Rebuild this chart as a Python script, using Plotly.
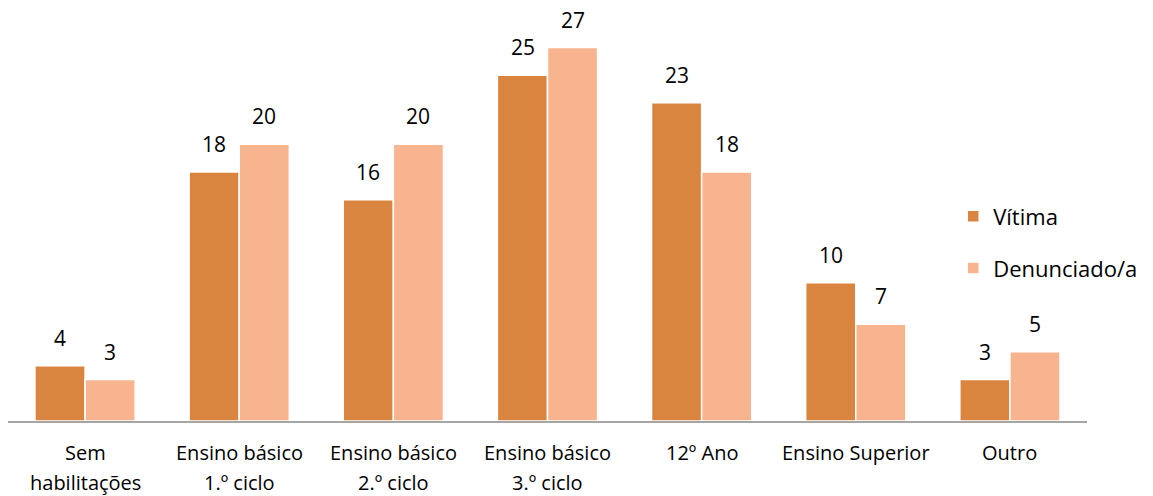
import plotly.graph_objects as go

categories = ["Sem habilitações", "Ensino básico 1.º ciclo", "Ensino básico 2.º ciclo",
              "Ensino básico 3.º ciclo", "12º Ano", "Ensino Superior", "Outro"]
label_line1 = ["Sem", "Ensino básico", "Ensino básico", "Ensino básico", "12º Ano", "Ensino Superior", "Outro"]
label_line2 = ["habilitações", "1.º ciclo", "2.º ciclo", "3.º ciclo", "", "", ""]
vitima = [4, 18, 16, 25, 23, 10, 3]
denunciado = [3, 20, 20, 27, 18, 7, 5]

FONT = "'Open Sans', sans-serif"
C_VIT = "#D9843F"
C_DEN = "#F8B48F"

fig = go.Figure()
fig.add_trace(go.Bar(
    x=categories, y=vitima, name="Vítima", legendgroup="a",
    marker=dict(color=C_VIT, line=dict(color="white", width=1.5)),
))
fig.add_trace(go.Bar(
    x=categories, y=denunciado, name="Denunciado/a", legendgroup="b",
    marker=dict(color=C_DEN, line=dict(color="white", width=1.5)),
))

annotations = []
# value labels floating above each bar (left bar = Vítima, right bar = Denunciado/a)
for cat, v, d in zip(categories, vitima, denunciado):
    for val, dx in ((v, -25), (d, 25)):
        annotations.append(dict(
            x=cat, y=val, xref="x", yref="y", text=str(val), showarrow=False,
            xanchor="center", yanchor="bottom", xshift=dx, yshift=12,
            font=dict(size=21, color="#000000", family=FONT),
        ))
# two-line category labels under the axis
for cat, l1, l2 in zip(categories, label_line1, label_line2):
    for txt, dy in ((l1, -16), (l2, -46)):
        if txt:
            annotations.append(dict(
                x=cat, y=0, xref="x", yref="paper", text=txt, showarrow=False,
                xanchor="center", yanchor="top", yshift=dy,
                font=dict(size=20, color="#000000", family=FONT),
            ))

fig.update_layout(
    width=1153, height=496,
    margin=dict(l=8, r=66, t=6, b=75, autoexpand=False),
    paper_bgcolor="white", plot_bgcolor="white",
    barmode="group", bargap=0.35, bargroupgap=0.0,
    font=dict(family=FONT, color="#000000"),
    showlegend=True,
    legend=dict(x=0.876, xanchor="left", y=0.43, yanchor="middle",
                font=dict(size=22, color="#000000", family=FONT),
                tracegroupgap=20, bgcolor="rgba(0,0,0,0)"),
    annotations=annotations,
)
fig.update_xaxes(showline=True, linecolor="#A6A6A6", linewidth=1.5, ticks="",
                 showticklabels=False, showgrid=False)
fig.update_yaxes(range=[0, 30], visible=False, showgrid=False)

fig.write_html("out.html")
